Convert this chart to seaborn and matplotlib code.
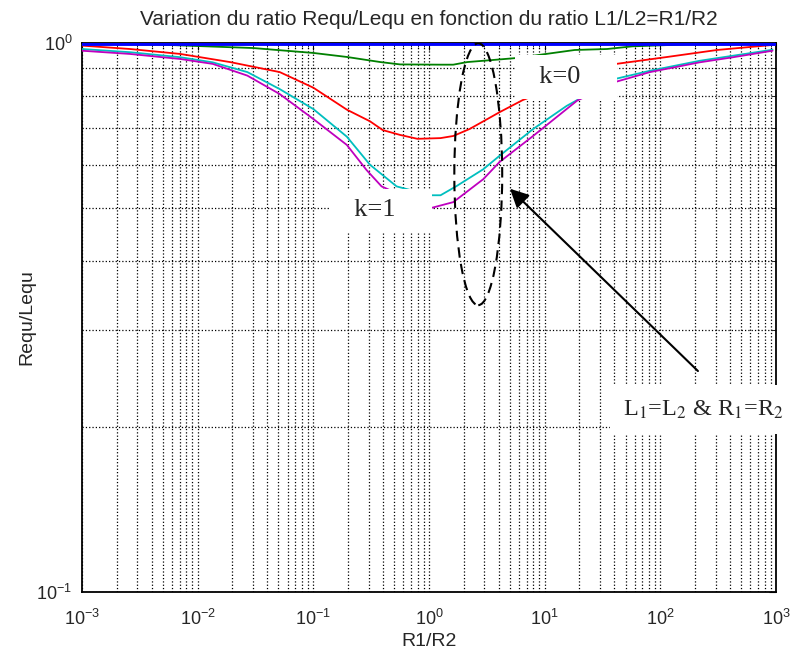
"""
Variation du ratio Requ/Lequ en fonction du ratio L1/L2=R1/R2
(courbes pour différents couplages k, lues sur la figure d'origine).
"""

import numpy as np
import pandas as pd
import matplotlib.pyplot as plt
import seaborn as sns
from matplotlib.patches import Ellipse
from matplotlib.ticker import LogLocator, NullFormatter

# log10(R1/R2) et Requ/Lequ
log_bleu = [-3.0, 3.0]
val_bleu = [1.0, 1.0]

log_vert = [-3.0, -2.33, -1.87, -1.52, -1.0, -0.71, -0.42, -0.25, 0.1, 0.21,
            0.33, 0.55, 0.76, 1.26, 1.54, 1.76, 2.34, 3.0]
val_vert = [0.998, 0.993, 0.985, 0.979, 0.959, 0.943, 0.923, 0.914, 0.913, 0.913,
            0.923, 0.931, 0.939, 0.971, 0.975, 0.986, 0.996, 1.0]

log_rouge = [-3.0, -2.585, -2.15, -1.72, -1.29, -1.0, -0.71, -0.51, -0.40, -0.25,
             -0.10, 0.10, 0.21, 0.35, 0.47, 0.61, 0.81, 1.62, 2.06, 2.49, 3.0]
val_rouge = [0.989, 0.975, 0.955, 0.923, 0.885, 0.829, 0.756, 0.72, 0.694, 0.68,
             0.669, 0.671, 0.677, 0.697, 0.72, 0.748, 0.787, 0.916, 0.943, 0.971, 0.993]

log_cyan = [-3.0, -2.585, -2.15, -1.87, -1.57, -1.29, -1.0, -0.71, -0.51, -0.28,
            0.01, 0.10, 0.24, 0.47, 0.61, 0.90, 1.19, 1.61, 1.91, 2.34, 2.63, 2.97]
val_cyan = [0.975, 0.962, 0.942, 0.922, 0.885, 0.824, 0.758, 0.675, 0.600, 0.548,
            0.528, 0.528, 0.549, 0.589, 0.623, 0.697, 0.768, 0.86, 0.89, 0.928, 0.948, 0.972]

log_magenta = [-3.0, -2.585, -2.15, -1.87, -1.57, -1.29, -1.0, -0.71, -0.54, -0.41,
               0.01, 0.21, 0.47, 0.61, 0.90, 1.28, 1.61, 1.91, 2.34, 2.63, 2.97]
val_magenta = [0.968, 0.955, 0.935, 0.916, 0.872, 0.807, 0.727, 0.652, 0.587, 0.548,
               0.500, 0.513, 0.565, 0.607, 0.677, 0.785, 0.849, 0.885, 0.922, 0.942, 0.968]

courbes = {
    "vert": (log_vert, val_vert, (0, 0.5, 0), 1.3),
    "rouge": (log_rouge, val_rouge, (1, 0, 0), 1.3),
    "cyan": (log_cyan, val_cyan, (0, 0.75, 0.75), 1.3),
    "magenta": (log_magenta, val_magenta, (0.75, 0, 0.75), 1.3),
    "bleu": (log_bleu, val_bleu, (0, 0, 1), 3.5),
}

sns.set_style("white")
plt.rcParams["font.family"] = ["Liberation Sans", "DejaVu Sans"]
plt.rcParams["axes.unicode_minus"] = False

fig = plt.figure(figsize=(7.92, 6.57), dpi=100)
ax = fig.add_axes([0.1035, 0.0989, 0.8763, 0.8357])

for nom, (lx, val, couleur, lw) in courbes.items():
    df = pd.DataFrame({"ratio": 10.0 ** np.array(lx), "requ_lequ": val})
    sns.lineplot(data=df, x="ratio", y="requ_lequ", color=couleur, linewidth=lw,
                 estimator=None, sort=False, ax=ax, zorder=3)

ax.set_xscale("log")
ax.set_yscale("log")
ax.set_xlim(1e-3, 1e3)
ax.set_ylim(1e-1, 1)
ax.yaxis.set_minor_locator(LogLocator(base=10, subs=np.arange(2, 10)))
ax.yaxis.set_minor_formatter(NullFormatter())
ax.xaxis.set_minor_locator(LogLocator(base=10, subs=np.arange(2, 10), numticks=20))
ax.xaxis.set_minor_formatter(NullFormatter())

ax.grid(True, which="both", linestyle=":", color="k", linewidth=0.9)
ax.tick_params(which="both", direction="in", top=True, right=True, color="k")
ax.tick_params(which="major", length=5, labelsize=13)
ax.tick_params(axis="x", which="major", pad=12)
ax.tick_params(axis="y", which="major", pad=7)
ax.tick_params(which="minor", length=3)
for sp in ax.spines.values():
    sp.set_color("k")
    sp.set_linewidth(1.3)

ax.set_title("Variation du ratio Requ/Lequ en fonction du ratio L1/L2=R1/R2",
             fontsize=15, pad=13)
ax.set_xlabel("R1/R2", fontsize=14, labelpad=3)
ax.set_ylabel("Requ/Lequ", fontsize=14, labelpad=1)

# annotations
ax.add_patch(Ellipse((0.571, 0.761), 0.069, 0.477, transform=ax.transAxes, fill=False,
                     edgecolor="k", linestyle=(0, (5, 3)), linewidth=1.5, zorder=4))

ax.annotate("", xy=(4.82, 0.547), xytext=(220, 0.2506),
            arrowprops=dict(arrowstyle="-|>", color="k", lw=1.5, mutation_scale=28),
            zorder=4)

boite = dict(facecolor="white", edgecolor="none", boxstyle="square,pad=0.4")
ax.text(15.3, 0.867, "  k=0    ", fontfamily="Liberation Serif", fontsize=19,
        ha="center", va="center", bbox=boite, zorder=5)
ax.text(0.385, 0.496, "  k=1    ", fontfamily="Liberation Serif", fontsize=19,
        ha="center", va="center", bbox=boite, zorder=5)
boite_l = dict(facecolor="white", edgecolor="none", boxstyle="square,pad=0.55")
ax.text(47.5, 0.215, "L$_1$=L$_2$ & R$_1$=R$_2$", fontfamily="Liberation Serif",
        math_fontfamily="stix", fontsize=17.5, ha="left", va="center",
        bbox=boite_l, zorder=5, clip_on=False)

fig.savefig("out.png", dpi=100)
